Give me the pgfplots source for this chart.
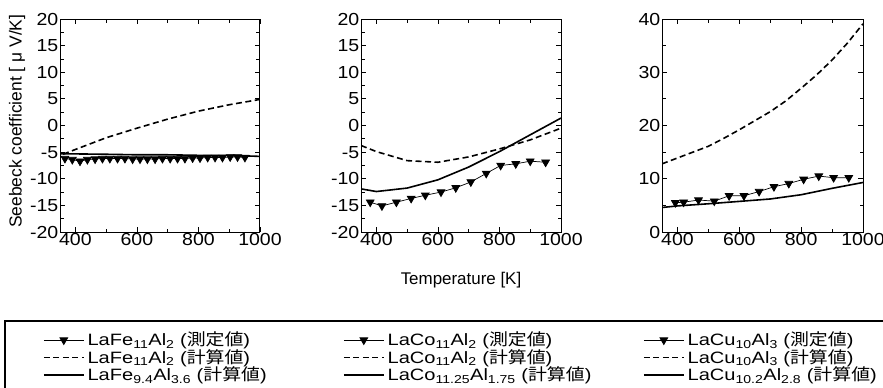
\documentclass[border=0pt]{standalone}
\usepackage{fontspec}
\setmainfont{Liberation Sans}
\newfontfamily\widesans[FakeStretch=1.12]{Liberation Sans}
\newfontfamily\legsans[FakeStretch=1.22]{Liberation Sans}
\newfontfamily\cjk[FakeStretch=1.15]{Noto Sans CJK JP}
\usepackage{pgfplots}
\pgfplotsset{compat=1.18}
\pgfplotsset{
 myaxis/.style={
  scale only axis, width=200bp, height=213bp,
  xmin=350, xmax=1000, xtick={400,600,800,1000}, minor xtick={500,700,900},
  axis line style={line width=1bp},
  major tick length=5bp, minor tick length=3.5bp,
  every tick/.style={black, line width=0.8bp},
  tick label style={font=\widesans\fontsize{17.5}{19}\selectfont, inner sep=1.5bp},
  /pgf/number format/assume math mode=true,
  /pgf/number format/1000 sep={},
  legend style={draw=none, fill=none, inner sep=0pt, outer sep=0pt, row sep=0pt, column sep=3bp,
    font=\legsans\fontsize{16.5}{18}\selectfont, nodes={inner sep=0pt, text height=12bp, text depth=5.5bp},
    anchor=north west},
  legend cell align=left,
  legend image code/.code={\draw[yshift=2.5bp,mark repeat=2,mark phase=2,##1] plot coordinates {(0bp,0bp) (20bp,0bp) (40bp,0bp)};},
 },
 meas/.style={black, line width=0.7bp, mark=triangle*, mark size=4.5bp, mark options={rotate=180, solid, fill=black}},
 calcd/.style={black, line width=1.6bp, dash pattern=on 6bp off 3.5bp},
 calcs/.style={black, line width=1.6bp},
}
\begin{document}
\begin{tikzpicture}
\useasboundingbox (0,0) rectangle (883bp,-388bp);
\clip (0,0) rectangle (883bp,-388bp);
% panel 1
\begin{axis}[myaxis, at={(60bp,-232bp)}, anchor=south west,
  ymin=-20, ymax=20, ytick={-20,-15,...,20}, minor y tick num=1,
  ylabel={Seebeck coefficient [ μ V/K]},
  every axis y label/.style={at={(axis description cs:-0.215,0.52)}, rotate=90, anchor=center, font=\fontsize{17.5}{19}\selectfont},
  legend style={at={(axis description cs:-0.085,-0.478)}}]
\addplot[meas] coordinates {(366,-6.2)(390,-6.4)(415,-6.7)(439,-6.4)(464,-6.3)(488,-6.2)(512,-6.2)(537,-6.2)(561,-6.2)(586,-6.3)(610,-6.3)(634,-6.3)(659,-6.3)(683,-6.2)(708,-6.2)(732,-6.2)(756,-6.2)(781,-6.1)(805,-6.1)(830,-6.0)(854,-6.0)(878,-6.0)(903,-5.9)(927,-5.9)(951,-6.0)};
\addlegendentry{LaFe\textsubscript{11}Al\textsubscript{2} ({\cjk 測定値})}
\addplot[calcd] coordinates {(360,-5.4)(400,-4.5)(500,-2.3)(600,-0.5)(700,1.2)(800,2.7)(900,3.9)(1000,4.9)};
\addlegendentry{LaFe\textsubscript{11}Al\textsubscript{2} ({\cjk 計算値})}
\addplot[calcs] coordinates {(350,-5.3)(500,-5.4)(600,-5.5)(700,-5.5)(800,-5.6)(900,-5.6)(1000,-5.8)};
\addlegendentry{LaFe\textsubscript{9.4}Al\textsubscript{3.6} ({\cjk 計算値})}
\end{axis}
% panel 2
\begin{axis}[myaxis, at={(361bp,-232bp)}, anchor=south west,
  ymin=-20, ymax=20, ytick={-20,-15,...,20}, minor y tick num=1,
  xlabel={Temperature [K]},
  every axis x label/.style={at={(axis description cs:0.5,-0.225)}, anchor=center, font=\fontsize{17}{19}\selectfont},
  legend style={at={(axis description cs:-0.09,-0.478)}}]
\addplot[meas] coordinates {(380,-14.4)(418,-15.1)(465,-14.4)(513,-13.7)(559,-13.1)(610,-12.5)(658,-11.7)(707,-10.6)(757,-9.0)(804,-7.5)(853,-7.2)(900,-6.7)(950,-6.9)};
\addlegendentry{LaCo\textsubscript{11}Al\textsubscript{2} ({\cjk 測定値})}
\addplot[calcd] coordinates {(350,-3.75)(400,-4.9)(500,-6.6)(600,-6.9)(700,-5.9)(800,-4.4)(900,-2.7)(1000,-0.5)};
\addlegendentry{LaCo\textsubscript{11}Al\textsubscript{2} ({\cjk 計算値})}
\addplot[calcs] coordinates {(350,-11.9)(400,-12.4)(500,-11.75)(600,-10.2)(700,-7.8)(800,-4.9)(900,-1.75)(1000,1.4)};
\addlegendentry{LaCo\textsubscript{11.25}Al\textsubscript{1.75} ({\cjk 計算値})}
\end{axis}
% panel 3
\begin{axis}[myaxis, at={(662bp,-232bp)}, anchor=south west, width=201bp,
  ymin=0, ymax=40, ytick={0,10,...,40}, minor y tick num=1,
  legend style={at={(axis description cs:-0.0945,-0.478)}}]
\addplot[meas] coordinates {(393,5.5)(420,5.6)(468,6.0)(519,5.8)(567,6.8)(615,6.8)(664,7.6)(712,8.5)(760,9.1)(808,9.9)(857,10.5)(905,10.2)(954,10.2)};
\addlegendentry{LaCu\textsubscript{10}Al\textsubscript{3} ({\cjk 測定値})}
\addplot[calcd] coordinates {(350,12.8)(400,13.9)(450,15.0)(500,16.1)(550,17.6)(600,19.2)(650,20.9)(700,22.6)(750,24.6)(800,27.0)(850,29.5)(900,32.3)(950,35.5)(1000,39.1)};
\addlegendentry{LaCu\textsubscript{10}Al\textsubscript{3} ({\cjk 計算値})}
\addplot[calcs] coordinates {(350,4.6)(400,4.9)(500,5.3)(600,5.75)(700,6.2)(800,7.0)(900,8.2)(1000,9.3)};
\addlegendentry{LaCu\textsubscript{10.2}Al\textsubscript{2.8} ({\cjk 計算値})}
\end{axis}
\draw[line width=1.2bp] (5bp,-321bp) rectangle (895bp,-395bp);
\end{tikzpicture}
\end{document}
